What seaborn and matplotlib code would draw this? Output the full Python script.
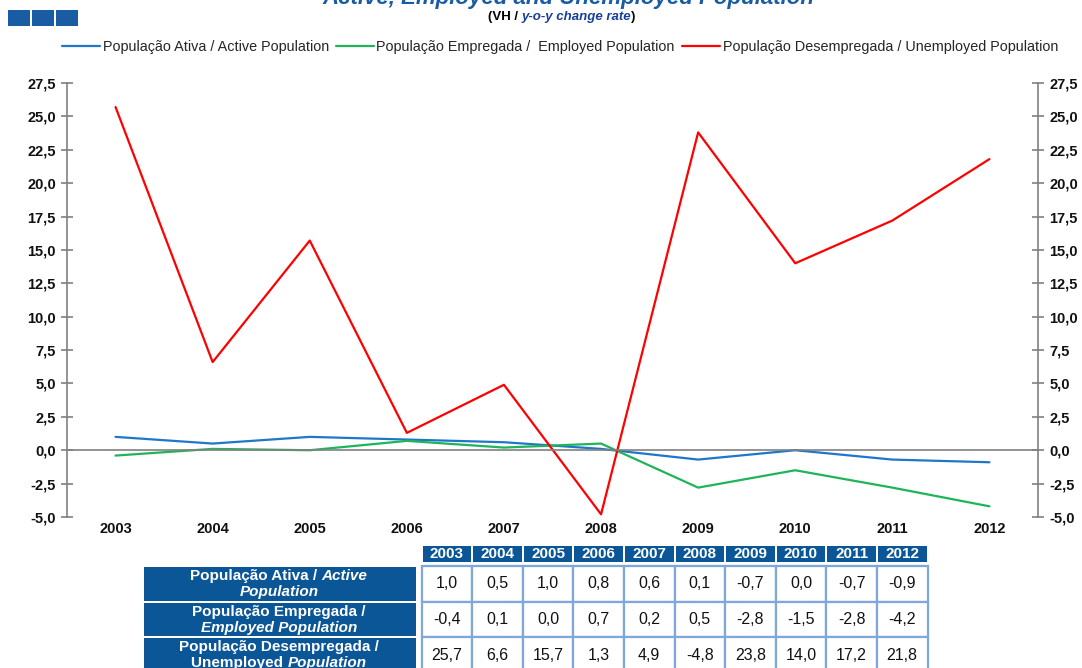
import seaborn as sns
import pandas as pd
import numpy as np
import matplotlib.pyplot as plt
from matplotlib.patches import Rectangle
from matplotlib.ticker import FuncFormatter, FixedLocator

# data (y-o-y change rate, %)
years = ['2003', '2004', '2005', '2006', '2007', '2008', '2009', '2010', '2011', '2012']
active = [1.0, 0.5, 1.0, 0.8, 0.6, 0.1, -0.7, 0.0, -0.7, -0.9]
employed = [-0.4, 0.1, 0.0, 0.7, 0.2, 0.5, -2.8, -1.5, -2.8, -4.2]
unemployed = [25.7, 6.6, 15.7, 1.3, 4.9, -4.8, 23.8, 14.0, 17.2, 21.8]

series_names = ['População Ativa / Active Population',
                'População Empregada /  Employed Population',
                'População Desempregada / Unemployed Population']
row_labels = [[('População Ativa / ', 'normal'), ('Active', 'italic'), ('\n', None), ('Population', 'italic')],
              [('População Empregada /', 'normal'), ('\n', None), ('Employed Population', 'italic')],
              [('População Desempregada /', 'normal'), ('\n', None), ('Unemployed ', 'normal'), ('Population', 'italic')]]
title = 'Active, Employed and Unemployed Population'

colors = ['#1f77c9', '#1fb45a', '#ff0000']
dark_blue = '#0b5697'
light_blue = '#7ea7dc'
grey = '#808080'

sns.set_theme(style="white")
plt.rcParams['font.family'] = ['Liberation Sans', 'DejaVu Sans']

data = pd.DataFrame({
    'year': years * 3,
    'value': active + employed + unemployed,
    'series': [series_names[0]] * 10 + [series_names[1]] * 10 + [series_names[2]] * 10,
})

W, H = 1082, 668
fig = plt.figure(figsize=(W / 100, H / 100), dpi=100)
ax = fig.add_axes([67 / W, 1 - 517 / H, (1038 - 67) / W, (517 - 83) / H])

sns.lineplot(data=data, x='year', y='value', hue='series', palette=colors,
             linewidth=1.6, ax=ax, legend=True, sort=False)

ax.set_xlim(-0.5, 9.5)
ax.set_ylim(-5, 27.5)
ax.set_yticks(np.arange(-5, 27.6, 2.5))
ax.yaxis.set_major_formatter(FuncFormatter(lambda v, p: f"{v:.1f}".replace('.', ',')))
ax.set_xlabel('')
ax.set_ylabel('')

ax.spines['top'].set_visible(False)
for s in ['left', 'right', 'bottom']:
    ax.spines[s].set_color(grey)
    ax.spines[s].set_linewidth(1.2)
ax.spines['bottom'].set_position(('data', 0))

ax.yaxis.set_ticks_position('both')
ax.tick_params(axis='y', which='major', direction='inout', length=8, width=1.2,
               color=grey, labelright=True, labelsize=10.5, pad=4)
ax.tick_params(axis='x', which='major', length=0, labelsize=10.5, pad=52)
ax.xaxis.set_minor_locator(FixedLocator(np.arange(0.5, 9, 1)))
ax.tick_params(axis='x', which='minor', direction='out', length=4, width=1.2, color=grey)
for lab in ax.get_xticklabels() + ax.get_yticklabels():
    lab.set_fontweight('bold')
    lab.set_color('#111111')
for t in ax.yaxis.get_major_ticks():
    t.label2.set_fontweight('bold')
    t.label2.set_color('#111111')

handles, labels = ax.get_legend_handles_labels()
ax.get_legend().remove()
fig.legend(handles, labels, loc='center', bbox_to_anchor=(560 / W, 1 - 47 / H), ncol=3,
           frameon=False, handlelength=2.6, handletextpad=0.2, columnspacing=0.5,
           prop={'size': 10.4})

# overlay in pixel coordinates for the header and the data table
tax = fig.add_axes([0, 0, 1, 1])
tax.set_xlim(0, W)
tax.set_ylim(H, 0)
tax.axis('off')
tax.patch.set_visible(False)

for i in range(3):
    tax.add_patch(Rectangle((8 + i * 24, 10), 22, 16, color='#1a5ca3', lw=0))

tax.text(568, 4, title, ha='center', va='baseline', fontsize=16, fontweight='bold',
         fontstyle='italic', color='#1a5ca3')

renderer = fig.canvas.get_renderer()


def mixed_line(parts, xc, y, size, weight):
    texts = []
    for txt, style, col in parts:
        t = tax.text(0, y, txt, ha='left', va='center', fontsize=size, fontweight=weight,
                     fontstyle=style, color=col)
        texts.append(t)
    widths = [t.get_window_extent(renderer=renderer).width for t in texts]
    x = xc - sum(widths) / 2
    for t, w in zip(texts, widths):
        t.set_x(x)
        x += w


mixed_line([('(VH / ', 'normal', 'black'), ('y-o-y change rate', 'italic', '#1a3f96'),
            (')', 'normal', 'black')], 562, 17, 9.5, 'bold')

# table
col_left = 421.5
col_w = 50.6
row_tops = [566, 602, 637]
row_h = [36, 35, 36]
for j, yr in enumerate(years):
    x0 = col_left + j * col_w
    tax.add_patch(Rectangle((x0 + 1, 546), col_w - 2, 16, color=dark_blue, lw=0))
    tax.text(x0 + col_w / 2, 554.5, yr, ha='center', va='center', color='white',
             fontsize=11, fontweight='bold')

table_rows = [active, employed, unemployed]
for r, vals in enumerate(table_rows):
    y0 = row_tops[r]
    tax.add_patch(Rectangle((144, y0 + 1), 272, row_h[r] - 2, color=dark_blue, lw=0))
    for j, v in enumerate(vals):
        x0 = col_left + j * col_w
        tax.add_patch(Rectangle((x0, y0), col_w, row_h[r], facecolor='white',
                                edgecolor=light_blue, lw=1.6))
        tax.text(x0 + col_w / 2, y0 + row_h[r] / 2, f"{v:.1f}".replace('.', ','),
                 ha='center', va='center', fontsize=11.5, color='#111111')
    # row label (two lines, mixed upright / italic)
    lines = [[]]
    for txt, style in row_labels[r]:
        if txt == '\n':
            lines.append([])
        else:
            lines[-1].append((txt, style, 'white'))
    for k, parts in enumerate(lines):
        mixed_line(parts, 279, y0 + 10 + k * 16, 11, 'bold')

fig.savefig('out.png', dpi=100)
